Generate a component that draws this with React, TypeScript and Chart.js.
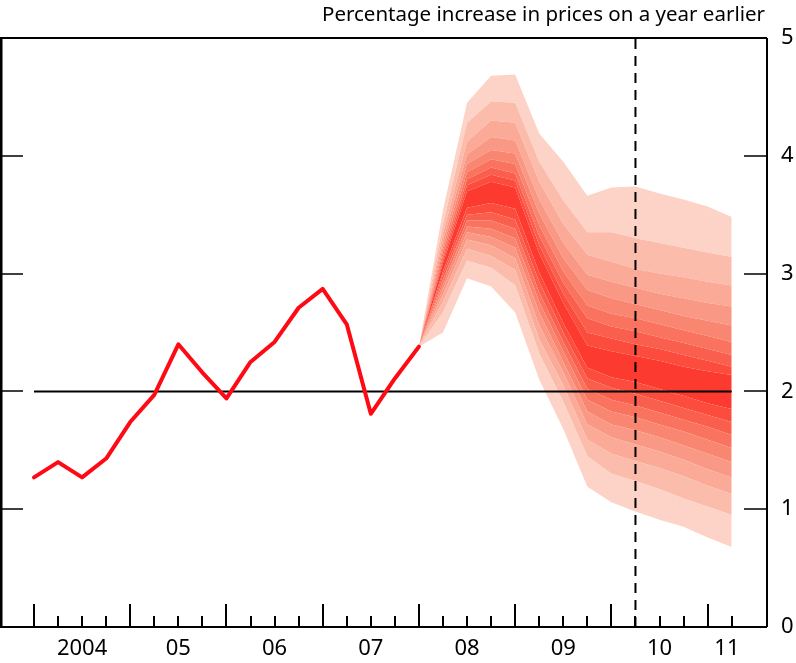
import { useEffect, useRef } from 'react';
import { Chart, registerables } from 'chart.js';

Chart.register(...registerables);

// ---------- data ----------
const quarters = [
  '2004 Q1', '2004 Q2', '2004 Q3', '2004 Q4',
  '2005 Q1', '2005 Q2', '2005 Q3', '2005 Q4',
  '2006 Q1', '2006 Q2', '2006 Q3', '2006 Q4',
  '2007 Q1', '2007 Q2', '2007 Q3', '2007 Q4',
  '2008 Q1', '2008 Q2', '2008 Q3', '2008 Q4',
  '2009 Q1', '2009 Q2', '2009 Q3', '2009 Q4',
  '2010 Q1', '2010 Q2', '2010 Q3', '2010 Q4',
  '2011 Q1', '2011 Q2',
];

// CPI inflation outturns (2004 Q1 - 2008 Q1)
const cpiOutturn = [1.27, 1.40, 1.27, 1.43, 1.74, 1.97, 2.40, 2.16, 1.94, 2.25, 2.42, 2.71, 2.87, 2.57, 1.81, 2.11, 2.38];

// fan chart starts at 2008 Q1
const fanStartQuarter = '2008 Q1';

const upper90 = [2.38, 3.54, 4.45, 4.68, 4.69, 4.19, 3.95, 3.66, 3.73, 3.74, 3.68, 3.63, 3.57, 3.48];
const upper80 = [2.38, 3.42, 4.28, 4.46, 4.45, 3.95, 3.62, 3.35, 3.35, 3.30, 3.26, 3.22, 3.18, 3.14];
const upper70 = [2.38, 3.34, 4.12, 4.30, 4.28, 3.78, 3.42, 3.16, 3.10, 3.04, 3.00, 2.97, 2.93, 2.90];
const upper60 = [2.38, 3.28, 4.01, 4.16, 4.13, 3.63, 3.26, 2.99, 2.93, 2.88, 2.83, 2.79, 2.75, 2.72];
const upper50 = [2.38, 3.23, 3.93, 4.05, 4.02, 3.51, 3.13, 2.86, 2.79, 2.74, 2.69, 2.64, 2.60, 2.56];
const upper40 = [2.38, 3.19, 3.86, 3.97, 3.93, 3.41, 3.02, 2.73, 2.66, 2.62, 2.57, 2.52, 2.47, 2.42];
const upper30 = [2.38, 3.15, 3.80, 3.90, 3.85, 3.32, 2.92, 2.62, 2.55, 2.51, 2.46, 2.41, 2.36, 2.31];
const upper20 = [2.38, 3.12, 3.75, 3.84, 3.79, 3.24, 2.83, 2.50, 2.45, 2.40, 2.36, 2.31, 2.26, 2.21];
const upper10 = [2.38, 3.09, 3.70, 3.78, 3.73, 3.17, 2.75, 2.39, 2.34, 2.30, 2.26, 2.21, 2.17, 2.14];
const lower10 = [2.38, 3.02, 3.56, 3.60, 3.55, 3.01, 2.58, 2.20, 2.12, 2.08, 2.02, 1.96, 1.90, 1.85];
const lower20 = [2.38, 2.99, 3.50, 3.52, 3.46, 2.93, 2.50, 2.11, 2.03, 1.98, 1.92, 1.86, 1.80, 1.74];
const lower30 = [2.38, 2.95, 3.45, 3.45, 3.38, 2.84, 2.42, 2.02, 1.93, 1.88, 1.82, 1.76, 1.70, 1.63];
const lower40 = [2.38, 2.91, 3.40, 3.38, 3.30, 2.76, 2.34, 1.93, 1.83, 1.78, 1.72, 1.66, 1.59, 1.52];
const lower50 = [2.38, 2.87, 3.35, 3.31, 3.22, 2.67, 2.25, 1.83, 1.72, 1.67, 1.61, 1.54, 1.47, 1.40];
const lower60 = [2.38, 2.82, 3.29, 3.24, 3.13, 2.56, 2.16, 1.72, 1.61, 1.55, 1.49, 1.42, 1.34, 1.27];
const lower70 = [2.38, 2.76, 3.21, 3.15, 3.03, 2.44, 2.05, 1.59, 1.47, 1.41, 1.35, 1.28, 1.20, 1.13];
const lower80 = [2.38, 2.67, 3.11, 3.05, 2.90, 2.32, 1.91, 1.45, 1.30, 1.24, 1.17, 1.09, 1.02, 0.95];
const lower90 = [2.38, 2.50, 2.96, 2.89, 2.67, 2.10, 1.68, 1.19, 1.06, 0.98, 0.91, 0.85, 0.76, 0.68];

const targetRate = 2;
const horizonQuarter = '2010 Q2';

const yTickValues = [0, 1, 2, 3, 4, 5];
const yearLabels = ['2004', '05', '06', '07', '08', '09', '10', '11'];
const yearLabelQuarter = [2, 6, 10, 14, 18, 22, 26, 28.8];
const titleText = 'Percentage increase in prices on a year earlier';

// ---------- styles ----------
const shades = ['#fd3a2f', '#fb4c3d', '#fa5f4d', '#f9735f', '#f98671', '#f99884', '#faaa97', '#fbbcab', '#fcd3c6'];
const FONT = '"Noto Sans", "Open Sans", sans-serif';

export default function App() {
  const ref = useRef<HTMLCanvasElement | null>(null);

  useEffect(() => {
    if (!ref.current) return;
    const start = quarters.indexOf(fanStartQuarter);
    const horizon = quarters.indexOf(horizonQuarter);
    const toXY = (arr: number[], s: number) => arr.map((v, k) => ({ x: s + k, y: v }));

    const bounds = [
      lower90, lower80, lower70, lower60, lower50, lower40, lower30, lower20, lower10,
      upper10, upper20, upper30, upper40, upper50, upper60, upper70, upper80, upper90,
    ];
    const fanSets = bounds.map((arr, i) => ({
      type: 'line' as const,
      data: toXY(arr, start),
      borderWidth: 0,
      pointRadius: 0,
      fill: i === 0 ? false : '-1',
      backgroundColor: i === 0 ? 'transparent' : shades[Math.abs(i - 9)],
      borderColor: 'transparent',
      order: 10,
    }));

    const frame = {
      id: 'frame',
      afterDatasetsDraw(chart: any) {
        const { ctx, chartArea: a, scales } = chart;
        const xs = scales.x;
        const ys = scales.y;
        ctx.save();
        ctx.strokeStyle = '#000';
        ctx.lineCap = 'butt';
        // borders
        ctx.lineWidth = 2;
        ctx.beginPath();
        ctx.moveTo(a.left, a.top); ctx.lineTo(a.right, a.top);
        ctx.moveTo(a.right, a.top); ctx.lineTo(a.right, a.bottom);
        ctx.moveTo(a.left, a.bottom); ctx.lineTo(a.right, a.bottom);
        ctx.stroke();
        ctx.lineWidth = 3;
        ctx.beginPath();
        ctx.moveTo(a.left, a.top - 1); ctx.lineTo(a.left, a.bottom + 1);
        ctx.stroke();
        // y ticks (both sides)
        ctx.lineWidth = 1.5;
        ctx.beginPath();
        yTickValues.forEach((v) => {
          if (v === 0 || v === 5) return;
          const y = Math.round(ys.getPixelForValue(v));
          ctx.moveTo(a.left, y); ctx.lineTo(a.left + 22, y);
          ctx.moveTo(a.right - 23, y); ctx.lineTo(a.right, y);
        });
        ctx.stroke();
        // x ticks
        ctx.lineWidth = 2;
        ctx.beginPath();
        quarters.forEach((q, i) => {
          const x = Math.round(xs.getPixelForValue(i));
          const len = i % 4 === 0 ? 23 : 11;
          ctx.moveTo(x, a.bottom); ctx.lineTo(x, a.bottom - len);
        });
        ctx.stroke();
        // y labels
        ctx.fillStyle = '#000';
        ctx.font = `22px ${FONT}`;
        ctx.textAlign = 'left';
        ctx.textBaseline = 'middle';
        yTickValues.forEach((v) => {
          ctx.fillText(String(v), a.right + 14, ys.getPixelForValue(v));
        });
        // x labels
        ctx.textAlign = 'center';
        yearLabels.forEach((t, i) => {
          ctx.fillText(t, xs.getPixelForValue(yearLabelQuarter[i]), a.bottom + 22);
        });
        // title
        ctx.font = `20.5px ${FONT}`;
        ctx.textAlign = 'right';
        ctx.textBaseline = 'alphabetic';
        ctx.fillText(titleText, a.right - 2, 21);
        ctx.restore();
      },
    };

    const chart = new Chart(ref.current, {
      type: 'line',
      data: {
        datasets: [
          {
            data: [{ x: horizon, y: 0 }, { x: horizon, y: 5 }],
            borderColor: '#000',
            borderWidth: 2,
            borderDash: [10, 7],
            pointRadius: 0,
            fill: false,
            order: 0,
          },
          {
            data: toXY(cpiOutturn, 0),
            borderColor: '#ff0a14',
            borderWidth: 4,
            borderJoinStyle: 'round',
            borderCapStyle: 'round',
            pointRadius: 0,
            fill: false,
            order: 1,
          },
          {
            data: [{ x: 0, y: targetRate }, { x: quarters.length - 1, y: targetRate }],
            borderColor: '#000',
            borderWidth: 2,
            pointRadius: 0,
            fill: false,
            order: 2,
          },
          ...fanSets,
        ] as any,
      },
      options: {
        responsive: false,
        animation: false,
        layout: { padding: { left: 1, right: 29, top: 38, bottom: 36 } },
        plugins: {
          legend: { display: false },
          tooltip: { enabled: false },
          title: { display: false },
        },
        scales: {
          x: { type: 'linear', min: -1.371, max: 30.467, display: false },
          y: { type: 'linear', min: 0, max: 5, display: false },
        },
        elements: { point: { radius: 0 }, line: { tension: 0 } },
      },
      plugins: [frame],
    });
    return () => chart.destroy();
  }, []);

  return (
    <div style={{ position: 'absolute', left: 0, top: 0, width: 796, height: 663, background: '#fff' }}>
      <canvas ref={ref} width={796} height={663} />
    </div>
  );
}
